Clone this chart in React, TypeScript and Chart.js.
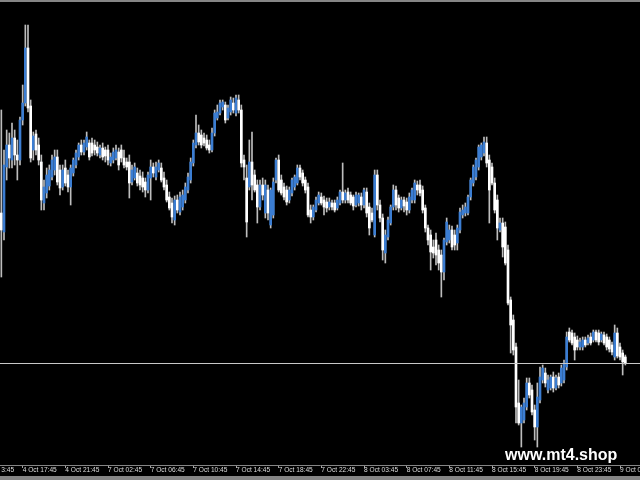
import React, { useEffect, useRef } from "react";
import { Chart, registerables } from "chart.js";

Chart.register(...registerables);

// M15 candles, price in points (y-axis hidden)
const opens = [
  252, 233, 298, 320, 305, 327, 310, 305, 345, 362,
  417, 359, 315, 331, 320, 303, 262, 272, 279, 288,
  295, 308, 295, 278, 297, 290, 278, 292, 300, 308,
  320, 313, 318, 322, 322, 320, 318, 310, 317, 315,
  315, 302, 305, 307, 313, 315, 307, 303, 303, 283,
  287, 292, 289, 287, 283, 275, 287, 298, 288, 295,
  297, 287, 280, 268, 262, 245, 265, 253, 258, 265,
  275, 285, 302, 320, 332, 330, 327, 325, 320, 315,
  332, 347, 352, 358, 360, 347, 353, 362, 352, 365,
  355, 305, 287, 278, 303, 290, 280, 258, 280, 252,
  275, 240, 250, 285, 305, 285, 278, 275, 265, 272,
  278, 282, 297, 292, 285, 278, 255, 248, 255, 262,
  268, 265, 263, 258, 262, 262, 257, 262, 273, 265,
  273, 270, 268, 260, 262, 268, 260, 273, 258, 252,
  230, 290, 260, 247, 212, 228, 242, 258, 275, 267,
  257, 265, 263, 255, 265, 265, 280, 280, 275, 257,
  237, 230, 218, 225, 215, 210, 193, 223, 225, 235,
  230, 222, 235, 250, 252, 252, 268, 282, 288, 298,
  308, 312, 322, 305, 298, 282, 265, 235, 242, 238,
  215, 165, 145, 118, 62, 42, 45, 58, 82, 75,
  55, 38, 65, 85, 92, 75, 77, 88, 77, 88,
  82, 85, 98, 133, 132, 128, 125, 118, 118, 125,
  122, 128, 125, 133, 132, 125, 130, 128, 125, 120,
  108, 132, 118, 112, 108,
];
const highs = [
  355, 315, 335, 332, 342, 335, 325, 348, 380, 440,
  440, 365, 333, 335, 327, 310, 285, 297, 300, 310,
  315, 315, 300, 300, 305, 295, 300, 307, 315, 322,
  325, 325, 333, 325, 327, 325, 323, 320, 322, 318,
  320, 312, 317, 320, 317, 320, 315, 307, 310, 300,
  302, 297, 295, 293, 287, 293, 305, 302, 303, 305,
  302, 293, 285, 273, 267, 269, 270, 273, 275, 282,
  292, 307, 325, 350, 340, 335, 332, 330, 325, 337,
  355, 360, 365, 365, 363, 360, 368, 367, 370, 370,
  360, 310, 300, 325, 333, 295, 285, 285, 287, 285,
  280, 277, 287, 307, 310, 290, 282, 279, 278, 287,
  290, 300, 300, 295, 288, 282, 260, 260, 268, 273,
  272, 269, 267, 267, 265, 265, 268, 275, 302, 275,
  277, 273, 270, 273, 272, 272, 277, 277, 262, 257,
  295, 295, 265, 251, 235, 248, 260, 280, 279, 270,
  268, 268, 267, 272, 277, 285, 284, 285, 279, 260,
  240, 235, 225, 232, 220, 215, 227, 247, 240, 239,
  235, 240, 257, 260, 262, 270, 287, 300, 307, 320,
  322, 328, 328, 310, 302, 287, 270, 247, 247, 243,
  220, 168, 150, 122, 85, 60, 67, 87, 87, 80,
  60, 82, 98, 100, 97, 90, 90, 93, 90, 92,
  100, 105, 133, 137, 135, 132, 129, 127, 128, 128,
  130, 132, 135, 135, 135, 133, 133, 131, 128, 123,
  140, 137, 122, 115, 110,
];
const lows = [
  188, 225, 285, 297, 297, 300, 285, 300, 340, 359,
  353, 303, 305, 310, 300, 255, 255, 267, 275, 285,
  290, 280, 270, 275, 279, 273, 260, 289, 297, 305,
  310, 310, 315, 305, 309, 310, 309, 307, 305, 303,
  300, 299, 302, 305, 295, 303, 297, 295, 267, 280,
  285, 279, 275, 273, 268, 272, 265, 288, 285, 293,
  283, 275, 263, 255, 242, 240, 252, 250, 255, 262,
  272, 282, 299, 317, 320, 317, 319, 315, 312, 313,
  329, 345, 350, 355, 342, 345, 350, 352, 349, 352,
  298, 285, 228, 275, 265, 273, 242, 255, 265, 247,
  245, 237, 247, 282, 273, 270, 265, 260, 262, 269,
  275, 280, 285, 279, 272, 248, 242, 245, 253, 260,
  260, 250, 253, 255, 255, 253, 255, 260, 262, 262,
  262, 260, 255, 258, 259, 255, 257, 248, 230, 243,
  228, 255, 243, 205, 202, 225, 240, 255, 255, 253,
  255, 253, 250, 252, 262, 262, 270, 269, 252, 233,
  220, 195, 207, 200, 195, 168, 185, 220, 222, 215,
  215, 215, 232, 247, 249, 250, 265, 279, 285, 295,
  305, 309, 298, 242, 280, 252, 225, 233, 208, 200,
  160, 112, 110, 42, 40, 18, 42, 55, 67, 50,
  25, 18, 62, 82, 78, 72, 75, 73, 75, 77,
  79, 82, 95, 123, 120, 105, 115, 115, 115, 118,
  120, 120, 123, 123, 120, 123, 120, 115, 113, 110,
  105, 107, 105, 90, 100,
];
const closes = [
  235, 300, 320, 307, 327, 310, 305, 345, 362, 417,
  357, 307, 329, 315, 305, 265, 278, 290, 295, 305,
  308, 283, 277, 295, 282, 278, 297, 305, 312, 320,
  313, 322, 328, 308, 312, 315, 312, 317, 308, 309,
  305, 308, 313, 315, 300, 307, 300, 298, 282, 295,
  298, 282, 280, 278, 275, 290, 298, 292, 298, 302,
  285, 278, 265, 257, 248, 265, 255, 268, 270, 278,
  288, 303, 322, 332, 323, 320, 322, 317, 315, 332,
  352, 353, 362, 363, 345, 357, 365, 355, 367, 355,
  302, 298, 243, 303, 280, 275, 258, 280, 270, 280,
  252, 275, 283, 305, 275, 272, 268, 263, 275, 285,
  288, 297, 288, 282, 275, 250, 248, 258, 265, 270,
  262, 258, 257, 263, 258, 255, 265, 273, 265, 272,
  265, 262, 259, 270, 270, 260, 275, 252, 237, 245,
  290, 260, 247, 215, 230, 245, 258, 275, 260, 257,
  265, 259, 255, 268, 275, 282, 275, 272, 255, 237,
  225, 213, 212, 210, 202, 193, 225, 243, 235, 218,
  220, 237, 253, 255, 258, 268, 285, 298, 305, 318,
  320, 323, 302, 275, 282, 255, 237, 242, 218, 202,
  162, 140, 115, 58, 42, 58, 62, 82, 70, 53,
  38, 68, 88, 97, 82, 85, 88, 77, 87, 80,
  97, 102, 128, 125, 122, 115, 118, 123, 125, 120,
  127, 122, 133, 125, 123, 131, 122, 118, 116, 113,
  132, 109, 108, 103, 102,
];

const slotCount = 240; // visible bar slots (chart shift leaves empty slots at right)
const priceMin = 0;
const priceMax = 462;

const tickBars = [0, 8, 24, 40, 56, 72, 88, 104, 120, 136, 152, 168, 184, 200, 216, 232];
const tickTexts = [
  "3:45", "4 Oct 17:45", "4 Oct 21:45", "7 Oct 02:45", "7 Oct 06:45", "7 Oct 10:45",
  "7 Oct 14:45", "7 Oct 18:45", "7 Oct 22:45", "8 Oct 03:45", "8 Oct 07:45",
  "8 Oct 11:45", "8 Oct 15:45", "8 Oct 19:45", "8 Oct 23:45", "9 Oct 03:45",
];
const watermark = "www.mt4.shop";

const BULL = "#3b7dd2";
const BEAR = "#ffffff";
const WICK = "#bdbdbd";
const FRAME = "#858585";
const BID = "#c8c8c8";

export default function App() {
  const ref = useRef<HTMLCanvasElement | null>(null);

  useEffect(() => {
    if (!ref.current) return;
    const labels = Array.from({ length: slotCount }, (_, i) => String(i));
    const bodies = opens.map((o, i) => [o, closes[i]]);
    const wicks = highs.map((h, i) => [lows[i], h]);
    const bodyColors = opens.map((o, i) => (closes[i] > o ? BULL : BEAR));
    const lastClose = closes[closes.length - 1];

    const decor = {
      id: "decor",
      beforeDraw(chart: any) {
        const { ctx, width, height } = chart;
        ctx.save();
        ctx.fillStyle = "#000000";
        ctx.fillRect(0, 0, width, height);
        ctx.restore();
      },
      afterDatasetsDraw(chart: any) {
        const { ctx, chartArea, scales } = chart;
        const y = Math.round(scales.y.getPixelForValue(lastClose)) + 0.5;
        ctx.save();
        ctx.strokeStyle = BID;
        ctx.lineWidth = 1;
        ctx.beginPath();
        ctx.moveTo(chartArea.left, y);
        ctx.lineTo(chartArea.right, y);
        ctx.stroke();
        ctx.restore();
      },
      afterDraw(chart: any) {
        const { ctx, width, height } = chart;
        ctx.save();
        ctx.fillStyle = FRAME;
        ctx.fillRect(0, 0, width, 2);
        ctx.fillRect(0, height - 4, width, 4);
        ctx.fillStyle = "#ffffff";
        ctx.font = "bold 16px 'Liberation Sans', Arial, sans-serif";
        ctx.textBaseline = "alphabetic";
        ctx.textAlign = "left";
        ctx.fillText(watermark, 505, 460);
        ctx.restore();
      },
    };

    const chart = new Chart(ref.current, {
      type: "bar",
      data: {
        labels,
        datasets: [
          {
            label: "body",
            data: bodies as any,
            backgroundColor: bodyColors,
            barThickness: 2,
            grouped: false,
            borderWidth: 0,
            minBarLength: 1,
          },
          {
            label: "wick",
            data: wicks as any,
            backgroundColor: WICK,
            barThickness: 1,
            grouped: false,
            borderWidth: 0,
          },
        ],
      },
      options: {
        responsive: false,
        animation: false,
        devicePixelRatio: 1,
        events: [],
        layout: { padding: { top: 3, left: 0, right: 0, bottom: 0 }, autoPadding: false },
        plugins: { legend: { display: false }, tooltip: { enabled: false } },
        scales: {
          x: {
            type: "category",
            offset: true,
            afterFit: (scale: any) => {
              scale.height = 15;
            },
            grid: {
              display: true,
              drawOnChartArea: false,
              drawTicks: true,
              tickLength: 3,
              offset: false,
              color: (c: any) =>
                tickBars.indexOf(c.index) > 0 ? "#a0a0a0" : "rgba(0,0,0,0)",
            },
            border: { display: true, color: FRAME, width: 1 },
            ticks: {
              autoSkip: false,
              maxRotation: 0,
              minRotation: 0,
              align: "start",
              padding: -1,
              color: "#dcdcdc",
              font: { family: "'Liberation Sans', Arial, sans-serif", size: 6.6, lineHeight: 1 },
              callback: (_v: any, index: number) => {
                const k = tickBars.indexOf(index);
                return k >= 0 ? tickTexts[k] : "";
              },
            },
          },
          y: {
            display: false,
            min: priceMin,
            max: priceMax,
          },
        },
      },
      plugins: [decor],
    });
    return () => chart.destroy();
  }, []);

  return (
    <div
      style={{
        position: "fixed",
        left: 0,
        top: 0,
        width: 640,
        height: 480,
        background: "#000",
        overflow: "hidden",
      }}
    >
      <canvas ref={ref} width={640} height={480} style={{ display: "block" }} />
    </div>
  );
}
